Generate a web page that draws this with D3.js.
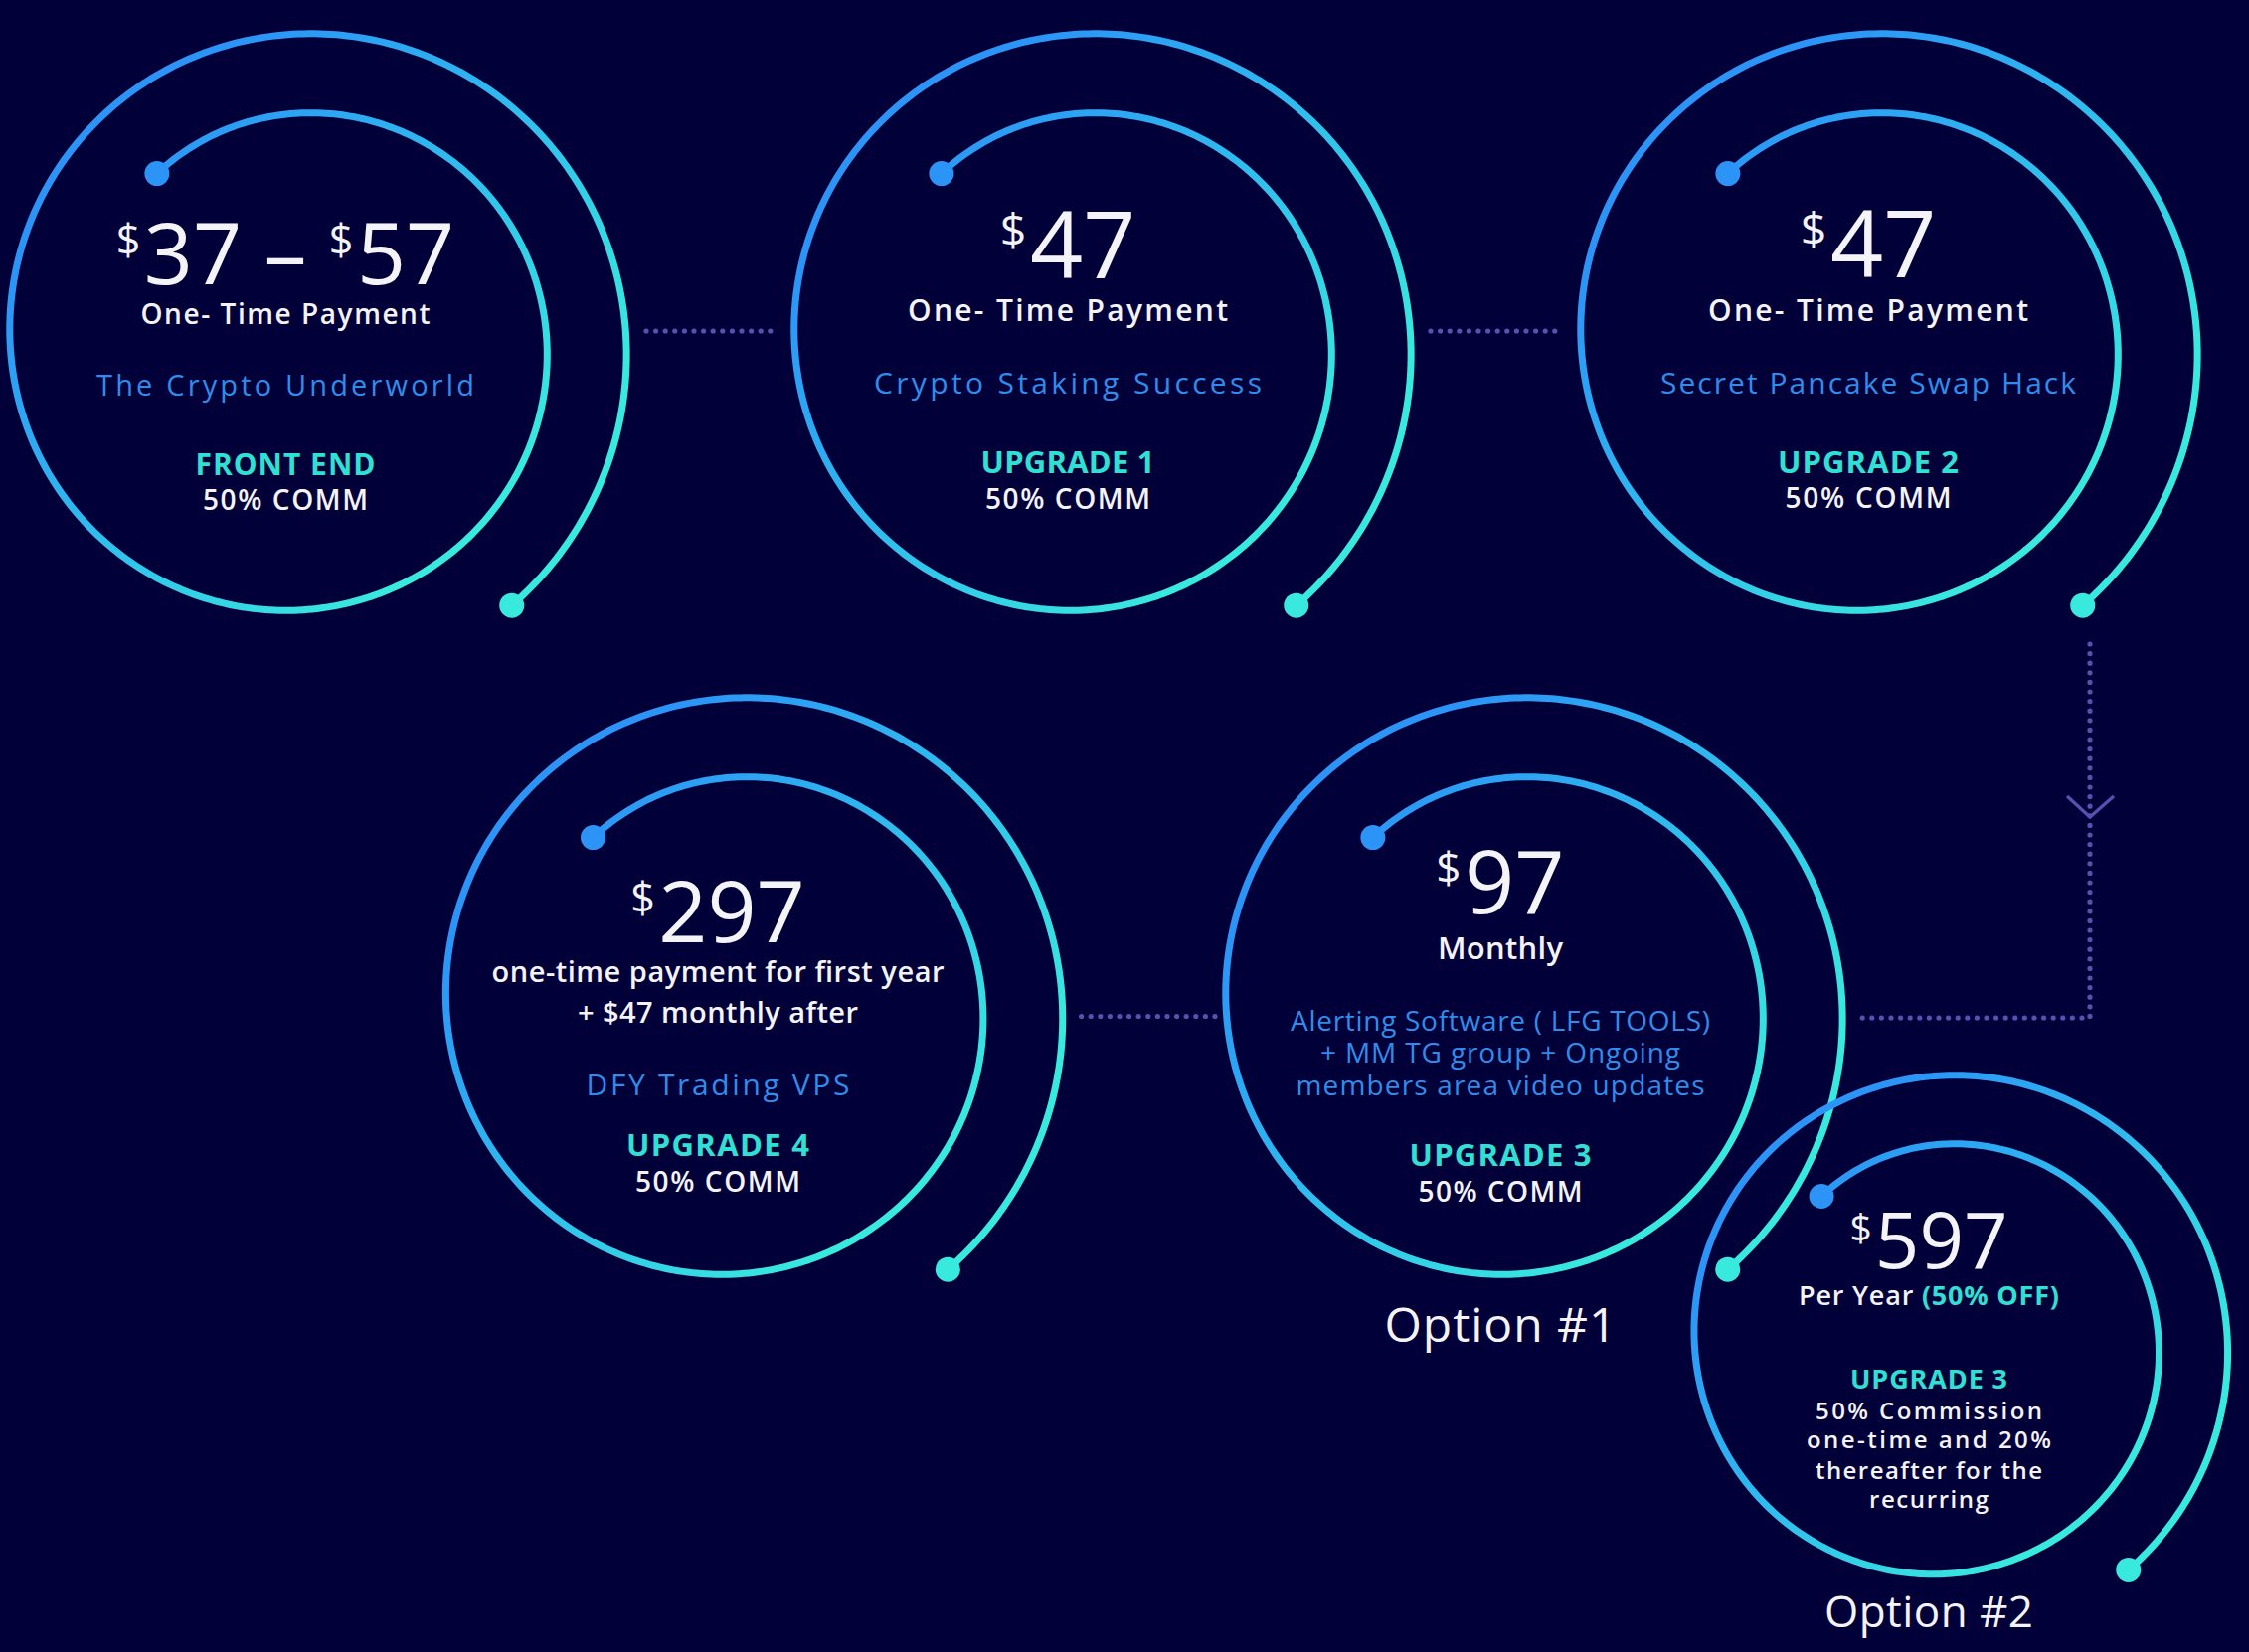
<!DOCTYPE html>
<html><head><meta charset="utf-8">
<script src="https://cdn.jsdelivr.net/npm/d3@7"></script>
<style>
html,body{margin:0;padding:0;background:#020039;}
svg{display:block;}
</style></head><body>
<svg id="chart" width="2262" height="1662"></svg>
<script>
// ---------- data ----------
const stageLabels = ["FRONT END","UPGRADE 1","UPGRADE 2","UPGRADE 4","UPGRADE 3","UPGRADE 3"];
const priceValues = [["37","57"],["47"],["47"],["297"],["97"],["597"]];
const paymentTerms = [["One- Time Payment"],["One- Time Payment"],["One- Time Payment"],
  ["one-time payment for first year","+ $47 monthly after"],["Monthly"],["Per Year "]];
const discountNotes = ["","","","","","(50% OFF)"];
const productNames = [["The Crypto Underworld"],["Crypto Staking Success"],["Secret Pancake Swap Hack"],
  ["DFY Trading VPS"],["Alerting Software ( LFG TOOLS)","+ MM TG group + Ongoing","members area video updates"],[]];
const commissionTerms = [["50% COMM"],["50% COMM"],["50% COMM"],["50% COMM"],["50% COMM"],
  ["50% Commission","one-time and 20%","thereafter for the","recurring"]];
const optionLabels = ["","","","","Option #1","Option #2"];

// ---------- layout ----------
const W = 2262, H = 1662;
const spiralLayout = [
  {cx:300, cy:344, s:1},
  {cx:1089, cy:344, s:1},
  {cx:1880, cy:344, s:1},
  {cx:738.6, cy:1012, s:1},
  {cx:1523, cy:1012, s:1},
  {cx:1955, cy:1350, s:0.865}
];
const textLayout = [
  {x:287, price:{y:286,size:86}, pay:[{y:326,size:28,w:291}], prod:[{y:398,size:29,w:380}],
   stage:{y:478,size:30,w:181}, comm:[{y:513,size:28,w:166}]},
  {x:1074, price:{y:280,size:93}, pay:[{y:323,size:30,w:322}], prod:[{y:396,size:30,w:390}],
   stage:{y:476,size:31,w:175}, comm:[{y:512,size:28,w:166}]},
  {x:1879, price:{y:279,size:93}, pay:[{y:323,size:30,w:322}], prod:[{y:396,size:30,w:418}],
   stage:{y:476,size:31,w:182}, comm:[{y:511,size:28,w:167}]},
  {x:722, price:{y:948,size:86}, pay:[{y:988,size:29,w:455},{y:1029,size:29,w:282}], prod:[{y:1102,size:30,w:265}],
   stage:{y:1163,size:31,w:184}, comm:[{y:1199,size:28,w:166}]},
  {x:1509, price:{y:919,size:88}, pay:[{y:965,size:31,w:126}],
   prod:[{y:1037,size:28,w:422},{y:1069,size:28,w:362},{y:1102,size:28,w:411}],
   stage:{y:1173,size:31,w:183}, comm:[{y:1209,size:28,w:165}], option:{y:1350,size:48,w:233}},
  {x:1940, price:{y:1276,size:78}, pay:[{y:1313,size:27,w:262}], prod:[],
   stage:{y:1397,size:27,w:158},
   comm:[{y:1428,size:24,w:228},{y:1457,size:24,w:246},{y:1488,size:24,w:228},{y:1517,size:24,w:120}],
   option:{y:1637,size:44,w:210}}
];

const COL = {bg:"#020039", white:"#f3f3f8", blue:"#2f8de9", cyan:"#2fe0d3", dots:"#5a50b0",
             gradA:"#2b94f6", gradM:"#2fbdee", gradB:"#38e9de"};
const FONT = "'Open Sans', 'Noto Sans', sans-serif";

const svg = d3.select("#chart").attr("viewBox",[0,0,W,H]).style("font-family",FONT);
svg.append("rect").attr("width",W).attr("height",H).attr("fill",COL.bg);

const defs = svg.append("defs");
const grad = defs.append("linearGradient").attr("id","spiralGrad")
  .attr("gradientUnits","userSpaceOnUse")
  .attr("x1",-180).attr("y1",-180).attr("x2",170).attr("y2",170);
grad.append("stop").attr("offset","0").attr("stop-color",COL.gradA);
grad.append("stop").attr("offset","0.5").attr("stop-color",COL.gradM);
grad.append("stop").attr("offset","1").attr("stop-color",COL.gradB);

// ---------- dotted connectors ----------
const connectors = [
  [[650,333],[784,333]],
  [[1439,333],[1573,333]],
  [[2102,648],[2102,1024],[1871,1024]],
  [[1222,1022.5],[1084,1022.5]]
];
const line = d3.line();
svg.append("g").selectAll("path").data(connectors).join("path")
  .attr("d", d => line(d)).attr("fill","none")
  .attr("stroke",COL.dots).attr("stroke-width",5.2)
  .attr("stroke-linecap","round").attr("stroke-dasharray","0 9.6");
svg.append("path").attr("d", line([[2079,801],[2102,822],[2126,801]]))
  .attr("fill","none").attr("stroke",COL.dots).attr("stroke-width",3.2);

// ---------- spirals ----------
const theta0 = -40, theta1 = 501;
const spiralR = t => 230 + 0.222 * t;
const rad = t => t * Math.PI / 180;
const spiral = d3.lineRadial().angle(d => rad(d)).radius(d => spiralR(d)).curve(d3.curveLinear);
const thetas = d3.range(theta0, theta1 + 0.001, 1);
const pt = t => [spiralR(t) * Math.sin(rad(t)), -spiralR(t) * Math.cos(rad(t))];

spiralLayout.forEach(L => {
  const g = svg.append("g").attr("transform", `translate(${L.cx},${L.cy}) scale(${L.s})`);
  g.append("path").attr("d", spiral(thetas)).attr("fill","none")
    .attr("stroke","url(#spiralGrad)").attr("stroke-width", 7 / L.s).attr("stroke-linecap","round");
  const a = pt(theta0), b = pt(theta1);
  g.append("circle").attr("cx",a[0]).attr("cy",a[1]).attr("r",12.5 / L.s).attr("fill",COL.gradA);
  g.append("circle").attr("cx",b[0]).attr("cy",b[1]).attr("r",12.5 / L.s).attr("fill",COL.gradB);
});

// ---------- text ----------
const tg = svg.append("g");
function addLine(x, o, text, color, weight) {
  const t = tg.append("text").attr("x",x).attr("y",o.y).attr("text-anchor","middle")
    .attr("font-size",o.size).attr("font-weight",weight).attr("fill",color).text(text);
  if (o.w) t.attr("textLength",o.w).attr("lengthAdjust","spacing");
  return t;
}

textLayout.forEach((T, i) => {
  // price
  const F = T.price.size;
  const pt = tg.append("text").attr("x",T.x).attr("y",T.price.y).attr("text-anchor","middle")
    .attr("fill",COL.white).attr("font-weight",500).attr("font-size",F);
  priceValues[i].forEach((v, k) => {
    if (k > 0) pt.append("tspan").attr("font-size",F).text(" \u2013 ");
    pt.append("tspan").attr("font-size",F*0.5).attr("dy",-0.34*F).text("$");
    pt.append("tspan").attr("font-size",F).attr("dy",0.34*F).attr("dx",0.04*F).text(v);
  });
  // payment terms
  paymentTerms[i].forEach((s, k) => {
    const t = addLine(T.x, T.pay[k], s, COL.white, 600);
    if (discountNotes[i] && k === 0) {
      t.append("tspan").attr("fill",COL.cyan).attr("font-weight",700).text(discountNotes[i]);
    }
  });
  productNames[i].forEach((s, k) => addLine(T.x, T.prod[k], s, COL.blue, 400));
  addLine(T.x, T.stage, stageLabels[i], COL.cyan, 700);
  commissionTerms[i].forEach((s, k) => addLine(T.x, T.comm[k], s, COL.white, 600));
  if (optionLabels[i]) addLine(T.x, T.option, optionLabels[i], COL.white, 500);
});
</script>
</body></html>
